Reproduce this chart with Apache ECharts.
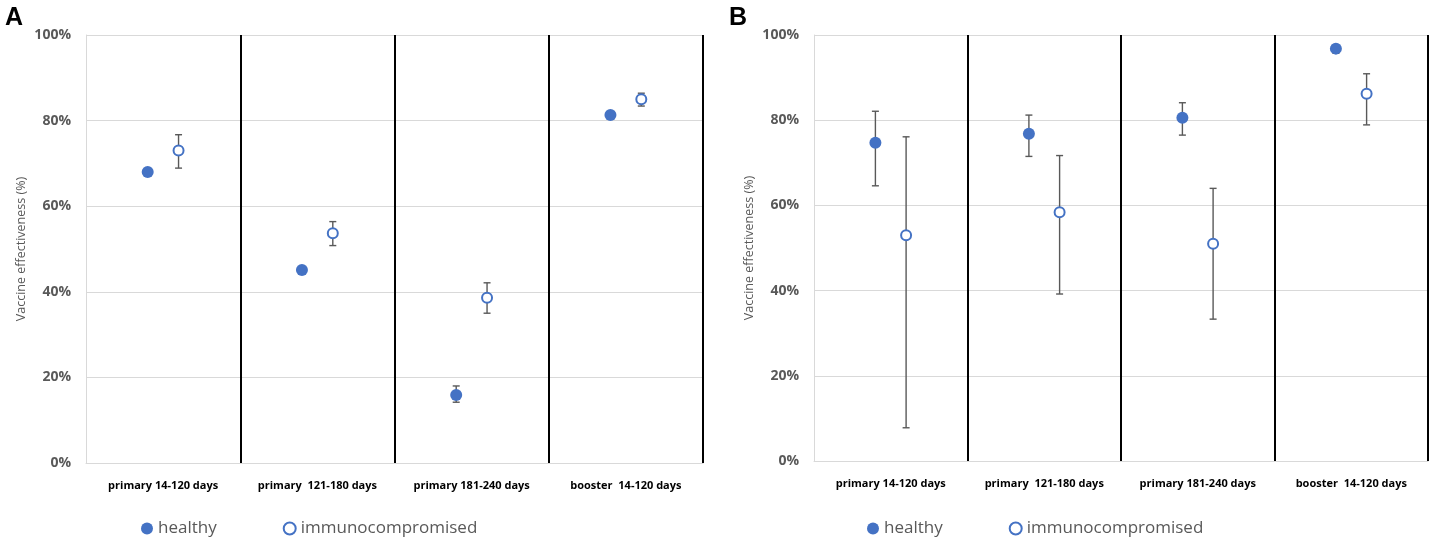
<!DOCTYPE html>
<html>
<head>
<meta charset="utf-8">
<script src="https://cdn.jsdelivr.net/npm/echarts@6/dist/echarts.min.js"></script>
<style>
  html, body { margin: 0; padding: 0; background: #fff; }
  #chart { width: 1430px; height: 539px; }
</style>
</head>
<body>
<div id="chart"></div>
<script>
// categories shared by both panels
var categories = ['primary 14-120 days', 'primary  121-180 days', 'primary 181-240 days', 'booster  14-120 days'];
var yTicks = [0, 20, 40, 60, 80, 100];

// panel A
var aHealthy = [68.0, 45.1, 15.9, 81.3];
var aHealthyLow = [67.2, 44.6, 14.2, 80.9];
var aHealthyHigh = [68.8, 45.5, 18.0, 81.7];
var aImmuno = [73.0, 53.7, 38.6, 85.0];
var aImmunoLow = [68.9, 50.8, 35.0, 83.4];
var aImmunoHigh = [76.7, 56.4, 42.1, 86.4];

// panel B
var bHealthy = [74.7, 76.8, 80.6, 96.8];
var bHealthyLow = [64.6, 71.5, 76.5, 95.7];
var bHealthyHigh = [82.1, 81.2, 84.1, 97.6];
var bImmuno = [53.0, 58.4, 51.0, 86.2];
var bImmunoLow = [7.8, 39.2, 33.3, 78.9];
var bImmunoHigh = [76.1, 71.7, 64.0, 90.9];

var BLUE = '#4472C4';
var GREY = '#595959';
var offHealthy = 0.4, offImmuno = 0.6;

function points(vals, off) {
  return vals.map(function (v, i) { return [i + off, v]; });
}
function bars(lo, hi, off) {
  return lo.map(function (v, i) { return [i + off, v, hi[i]]; });
}

function renderErr(params, api) {
  var x = api.value(0);
  var p1 = api.coord([x, api.value(1)]);
  var p2 = api.coord([x, api.value(2)]);
  var w = 3.5;
  var st = { stroke: GREY, lineWidth: 1.4 };
  return {
    type: 'group',
    children: [
      { type: 'line', shape: { x1: p1[0], y1: p1[1], x2: p2[0], y2: p2[1] }, style: st },
      { type: 'line', shape: { x1: p1[0] - w, y1: p1[1], x2: p1[0] + w, y2: p1[1] }, style: st },
      { type: 'line', shape: { x1: p2[0] - w, y1: p2[1], x2: p2[0] + w, y2: p2[1] }, style: st }
    ]
  };
}

var separators = categories.map(function (c, i) { return { xAxis: i + 1 }; });

function panelSeries(gi, healthy, hLo, hHi, immuno, iLo, iHi) {
  var ax = { xAxisIndex: gi * 2, yAxisIndex: gi };
  return [
    Object.assign({
      type: 'line', data: [], silent: true,
      markLine: {
        silent: true, symbol: 'none', label: { show: false },
        lineStyle: { color: '#000', width: 2, type: 'solid' },
        data: separators
      }
    }, ax),
    Object.assign({
      type: 'custom', renderItem: renderErr, z: 2,
      encode: { x: 0, y: [1, 2] }, data: bars(hLo, hHi, offHealthy)
    }, ax),
    Object.assign({
      type: 'custom', renderItem: renderErr, z: 2,
      encode: { x: 0, y: [1, 2] }, data: bars(iLo, iHi, offImmuno)
    }, ax),
    Object.assign({
      name: 'healthy', type: 'scatter', z: 3, symbol: 'circle', symbolSize: 12,
      itemStyle: { color: BLUE, opacity: 1 },
      data: points(healthy, offHealthy)
    }, ax),
    Object.assign({
      name: 'immunocompromised', type: 'scatter', z: 3, symbol: 'circle', symbolSize: 10,
      itemStyle: { color: '#fff', borderColor: BLUE, borderWidth: 2, opacity: 1 },
      data: points(immuno, offImmuno)
    }, ax)
  ];
}

function valueX(gi) {
  return {
    type: 'value', gridIndex: gi, min: 0, max: categories.length,
    axisLine: { show: true, lineStyle: { color: '#d9d9d9', width: 1 } },
    axisTick: { show: false }, axisLabel: { show: false }, splitLine: { show: false }
  };
}
function catX(gi) {
  return {
    type: 'category', gridIndex: gi, data: categories, position: 'bottom',
    axisLine: { show: false }, axisTick: { show: false }, splitLine: { show: false },
    axisLabel: {
      interval: 0, hideOverlap: false,
      margin: 17, color: '#000', fontWeight: 'bold', fontSize: 11,
      fontFamily: 'Open Sans'
    }
  };
}
function valueY(gi) {
  return {
    type: 'value', gridIndex: gi, min: yTicks[0], max: yTicks[yTicks.length - 1], interval: 20,
    name: 'Vaccine effectiveness (%)', nameLocation: 'middle', nameGap: 58,
    nameTextStyle: { color: GREY, fontSize: 12.5, fontFamily: 'Open Sans' },
    axisLine: { show: true, lineStyle: { color: '#d9d9d9', width: 1 } },
    axisTick: { show: false },
    axisLabel: {
      margin: 15, color: GREY, fontWeight: 'bold', fontSize: 14, fontFamily: 'Open Sans',
      formatter: '{value}%'
    },
    splitLine: { show: true, lineStyle: { color: '#d9d9d9', width: 1 } }
  };
}
function legendAt(left) {
  return {
    left: left, top: 520, padding: 0, itemWidth: 12, itemHeight: 12, itemGap: 66,
    icon: 'circle', selectedMode: false,
    textStyle: { color: GREY, fontSize: 17, fontFamily: 'Open Sans' },
    data: ['healthy', 'immunocompromised']
  };
}

var chart = echarts.init(document.getElementById('chart'));
chart.setOption({
  backgroundColor: '#fff',
  animation: false,
  title: [
    { text: 'A', left: 0, top: 1, textStyle: { fontSize: 25, fontWeight: 'bold', color: '#000', fontFamily: 'Liberation Sans' } },
    { text: 'B', left: 724, top: 1, textStyle: { fontSize: 25, fontWeight: 'bold', color: '#000', fontFamily: 'Liberation Sans' } }
  ],
  legend: [legendAt(141), legendAt(867)],
  grid: [
    { left: 86, top: 35, width: 617, height: 428 },
    { left: 814, top: 35, width: 614, height: 426 }
  ],
  xAxis: [valueX(0), catX(0), valueX(1), catX(1)],
  yAxis: [valueY(0), valueY(1)],
  series: [].concat(
    panelSeries(0, aHealthy, aHealthyLow, aHealthyHigh, aImmuno, aImmunoLow, aImmunoHigh),
    panelSeries(1, bHealthy, bHealthyLow, bHealthyHigh, bImmuno, bImmunoLow, bImmunoHigh)
  )
});
</script>
</body>
</html>
